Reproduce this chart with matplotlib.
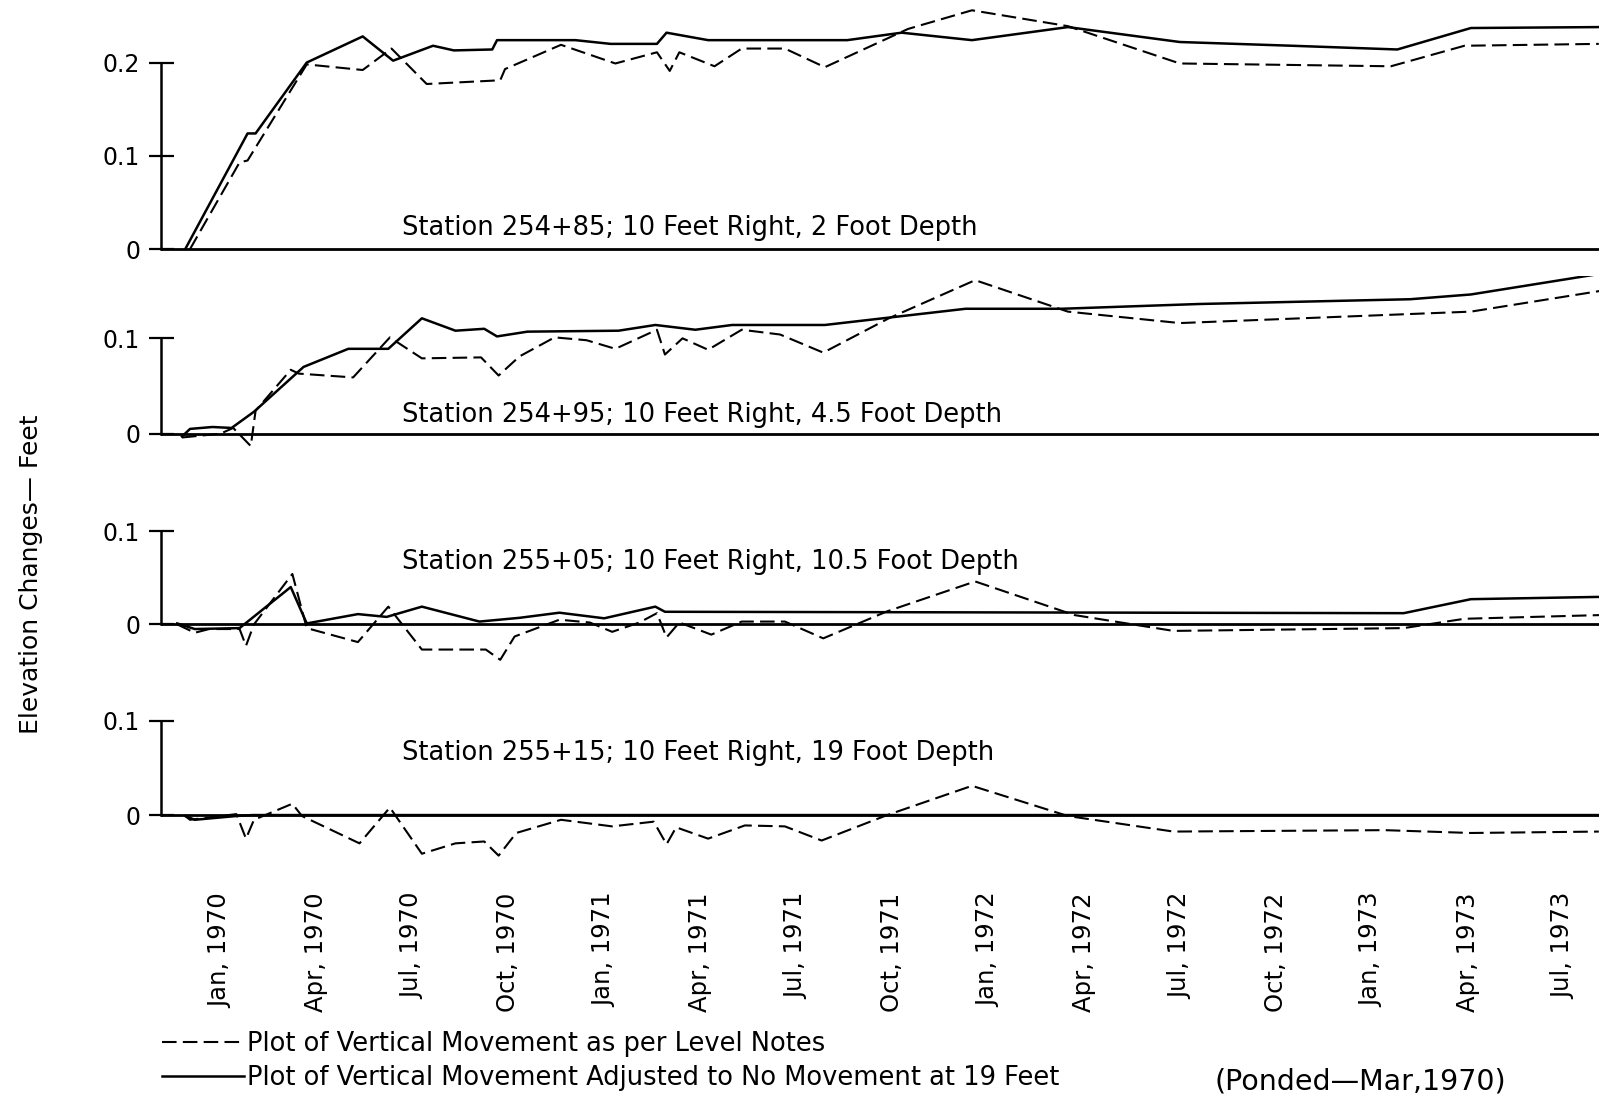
import matplotlib
matplotlib.use("Agg")
import matplotlib.pyplot as plt
from matplotlib.lines import Line2D

# x values are months counted from Jan 1970
tick_months = list(range(0, 43, 3))
tick_labels = ["Jan, 1970", "Apr, 1970", "Jul, 1970", "Oct, 1970",
               "Jan, 1971", "Apr, 1971", "Jul, 1971", "Oct, 1971",
               "Jan, 1972", "Apr, 1972", "Jul, 1972", "Oct, 1972",
               "Jan, 1973", "Apr, 1973", "Jul, 1973"]

titles = ["Station 254+85; 10 Feet Right, 2 Foot Depth",
          "Station 254+95; 10 Feet Right, 4.5 Foot Depth",
          "Station 255+05; 10 Feet Right, 10.5 Foot Depth",
          "Station 255+15; 10 Feet Right, 19 Foot Depth"]

# Station 254+85
s1_solid_m = [-1.1, 0.85, 1.1, 2.7, 4.45, 5.4, 6.65, 7.3, 8.5, 8.65, 11.1, 12.2, 13.65,
              13.95, 15.25, 19.6, 21.3, 23.5, 26.5, 30.0, 33.5, 36.8, 39.1, 43.1]
s1_solid_v = [0, 0.124, 0.124, 0.200, 0.228, 0.202, 0.218, 0.213, 0.214, 0.224, 0.224, 0.220,
              0.220, 0.232, 0.224, 0.224, 0.232, 0.224, 0.238, 0.222, 0.218, 0.214, 0.237, 0.238]
s1_dash_m = [-0.95, 0.6, 0.85, 2.7, 4.45, 5.35, 6.45, 8.75, 8.9, 10.65, 12.35, 13.65, 14.05,
             14.35, 15.45, 16.3, 17.65, 18.9, 21.5, 23.5, 26.5, 30.0, 36.6, 38.9, 43.1]
s1_dash_v = [0, 0.093, 0.095, 0.198, 0.192, 0.215, 0.177, 0.181, 0.193, 0.219, 0.199, 0.211,
             0.191, 0.211, 0.196, 0.215, 0.215, 0.195, 0.236, 0.256, 0.239, 0.199, 0.196,
             0.218, 0.220]

# Station 254+95
s2_solid_m = [-1.2, -0.95, -0.25, 0.35, 1.05, 2.6, 4.0, 5.25, 6.3, 7.35, 8.25, 8.65, 9.6,
              12.45, 13.6, 14.85, 16.0, 18.9, 23.3, 26.3, 30.6, 37.2, 39.1, 43.2]
s2_solid_v = [-0.003, 0.005, 0.007, 0.006, 0.023, 0.070, 0.089, 0.089, 0.121, 0.108, 0.110,
              0.102, 0.107, 0.108, 0.114, 0.109, 0.114, 0.114, 0.131, 0.131, 0.136, 0.141,
              0.146, 0.168]
s2_dash_m = [-1.2, 0.0, 0.4, 0.95, 1.1, 2.2, 2.45, 4.15, 5.3, 6.3, 8.15, 8.7, 9.35, 10.45,
             11.45, 12.35, 13.65, 13.9, 14.45, 15.25, 16.3, 17.5, 18.85, 20.9, 23.6, 26.5,
             30.0, 39.1, 43.2]
s2_dash_v = [-0.004, 0.0, 0.006, -0.013, 0.024, 0.067, 0.063, 0.059, 0.101, 0.079, 0.080,
             0.061, 0.081, 0.101, 0.098, 0.089, 0.109, 0.083, 0.100, 0.088, 0.109, 0.104,
             0.085, 0.121, 0.161, 0.128, 0.116, 0.128, 0.150]

# Station 255+05
s3_solid_m = [-1.35, -0.8, 0.6, 2.2, 2.7, 4.3, 5.2, 6.3, 8.1, 9.35, 10.6, 12.0, 13.6, 13.9,
              37.0, 39.1, 43.2]
s3_solid_v = [0.001, -0.005, -0.004, 0.040, 0.001, 0.011, 0.008, 0.019, 0.003, 0.007, 0.0125,
              0.0065, 0.019, 0.0135, 0.012, 0.027, 0.0295]
s3_dash_m = [-1.35, -0.8, -0.35, 0.6, 0.8, 1.05, 2.25, 2.7, 4.3, 5.25, 6.3, 8.3, 8.75, 9.2,
             10.6, 11.55, 12.25, 13.1, 13.65, 13.95, 14.35, 15.35, 16.3, 17.65, 18.85, 20.85,
             23.6, 26.7, 29.8, 37.0, 38.9, 43.2]
s3_dash_v = [0.0, -0.009, -0.005, -0.005, -0.023, 0.0, 0.054, -0.004, -0.019, 0.019, -0.027,
             -0.027, -0.038, -0.013, 0.005, 0.002, -0.008, 0.002, 0.012, -0.014, 0.002, -0.011,
             0.003, 0.003, -0.015, 0.014, 0.046, 0.010, -0.007, -0.004, 0.006, 0.010]

# Station 255+15
s4_solid_m = [-1.1, -0.8, 0.5, 1.0, 43.2]
s4_solid_v = [-0.001, -0.005, -0.001, 0.0, 0.0]
s4_dash_m = [-1.1, -0.95, 0.5, 0.8, 1.05, 2.25, 2.55, 4.35, 5.3, 6.3, 7.35, 8.25, 8.7, 9.25,
             10.65, 12.25, 13.55, 13.95, 14.25, 15.25, 16.4, 17.65, 18.8, 20.85, 23.5, 26.5,
             29.8, 36.4, 39.1, 43.1]
s4_dash_v = [-0.001, -0.005, 0.001, -0.025, -0.005, 0.012, -0.001, -0.030, 0.008, -0.041,
             -0.030, -0.028, -0.043, -0.019, -0.005, -0.012, -0.007, -0.031, -0.013, -0.025,
             -0.011, -0.012, -0.027, 0.0, 0.031, -0.001, -0.0175, -0.016, -0.019, -0.0175]

solids = [(s1_solid_m, s1_solid_v), (s2_solid_m, s2_solid_v),
          (s3_solid_m, s3_solid_v), (s4_solid_m, s4_solid_v)]
dashes = [(s1_dash_m, s1_dash_v), (s2_dash_m, s2_dash_v),
          (s3_dash_m, s3_dash_v), (s4_dash_m, s4_dash_v)]
yticks = [[0, 0.1, 0.2], [0, 0.1], [0, 0.1], [0, 0.1]]

plt.rcParams["font.family"] = "DejaVu Sans"

W, H = 1568.0, 1070.0
fig = plt.figure(figsize=(16.07, 10.97), dpi=100)

# panel layout: pixel row of zero line, pixels per unit, y limits, label height
panels = [(243, 910, -0.02, 0.265, 0.023),
          (423, 930, -0.02, 0.165, 0.020),
          (609, 910, -0.045, 0.11, 0.067),
          (795, 920, -0.05, 0.11, 0.066)]
x_left, x_right = 157, 1560
xlim = (-1.86, 43.1)
dash_style = (0, (7, 3))

axes = []
for i, (zero_px, ppu, lo, hi, label_y) in enumerate(panels):
    top_px = zero_px - hi * ppu
    bot_px = zero_px - lo * ppu
    ax = fig.add_axes([x_left / W, 1 - bot_px / H, (x_right - x_left) / W, (bot_px - top_px) / H])
    ax.set_xlim(*xlim)
    ax.set_ylim(lo, hi)
    for side in ["top", "right", "bottom"]:
        ax.spines[side].set_visible(False)
    ax.spines["left"].set_linewidth(1.8)
    ax.spines["left"].set_bounds(0, yticks[i][-1])
    ax.set_yticks(yticks[i], ["0" if t == 0 else f"{t:.1f}" for t in yticks[i]])
    ax.tick_params(axis="y", direction="inout", length=18, width=1.6, pad=6, labelsize=17)
    ax.axhline(0, color="black", lw=2.0)
    ax.plot(solids[i][0], solids[i][1], color="black", lw=1.8)
    ax.plot(dashes[i][0], dashes[i][1], color="black", lw=1.5, linestyle=dash_style)
    ax.text(5.67, label_y, titles[i], fontsize=18.5, va="center", ha="left")
    ax.set_xticks([])
    ax.patch.set_alpha(0)
    axes.append(ax)

ax4 = axes[-1]
ax4.set_xticks(tick_months, tick_labels, rotation=90, fontsize=17.5)
ax4.tick_params(axis="x", length=0, pad=22)

fig.text(30 / W, 1 - 560 / H, "Elevation Changes\u2014 Feet", rotation=90,
         fontsize=18, ha="center", va="center")

handles = [Line2D([], [], color="black", lw=1.5, linestyle=(0, (7, 3))),
           Line2D([], [], color="black", lw=1.8)]
fig.legend(handles, ["Plot of Vertical Movement as per Level Notes",
                     "Plot of Vertical Movement Adjusted to No Movement at 19 Feet"],
           loc="upper left", bbox_to_anchor=(158 / W, 1 - 1006 / H), frameon=False,
           fontsize=18.5, handlelength=3.2, handletextpad=0.1, labelspacing=0.3,
           borderpad=0, borderaxespad=0)

fig.text(1185 / W, 1 - 1055 / H, "(Ponded\u2014Mar,1970)", fontsize=20.5, ha="left", va="center")

fig.savefig("out.png", dpi=100)
